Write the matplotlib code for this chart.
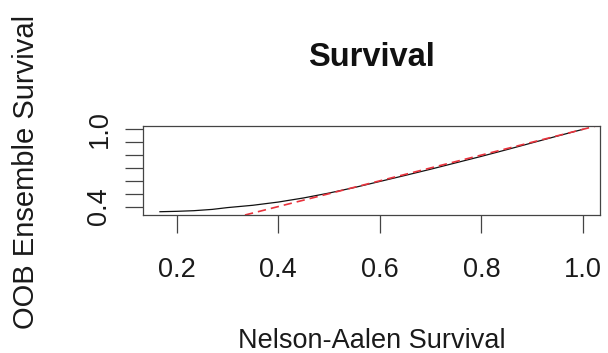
import matplotlib.pyplot as plt
import numpy as np

plt.rcParams['font.family'] = ['Liberation Sans', 'DejaVu Sans']

# Nelson-Aalen survival (x) vs OOB ensemble survival (y)
nelson_aalen = [0.167, 0.2, 0.234, 0.27, 0.3, 0.35, 0.4, 0.45, 0.5, 0.55,
                0.6, 0.65, 0.7, 0.75, 0.8, 0.85, 0.9, 0.95, 1.0]
oob_survival = [0.360, 0.363, 0.368, 0.378, 0.392, 0.41, 0.435, 0.467, 0.505, 0.548,
                0.595, 0.642, 0.690, 0.740, 0.790, 0.842, 0.895, 0.948, 1.0]

x_ticks = [0.2, 0.4, 0.6, 0.8, 1.0]
y_ticks = [0.4, 0.5, 0.6, 0.7, 0.8, 0.9, 1.0]
y_tick_labels = ['0.4', '', '', '', '', '', '1.0']

fig = plt.figure(figsize=(6.08, 3.53), dpi=100)
ax = fig.add_axes([0.2352, 0.3909, 0.7516, 0.2522])

ax.plot(nelson_aalen, oob_survival, color='#111111', lw=0.9)
ax.axline((0, 0), slope=1, color='#e8323c', lw=1.2, ls=(0, (5, 3)))

# R-style 4% padding
xr = max(nelson_aalen) - min(nelson_aalen)
yr = max(oob_survival) - min(oob_survival)
ax.set_xlim(min(nelson_aalen) - 0.04 * xr, max(nelson_aalen) + 0.04 * xr)
ax.set_ylim(min(oob_survival) - 0.04 * yr, max(oob_survival) + 0.04 * yr)

ax.set_xticks(x_ticks)
ax.set_xticklabels([f'{t:.1f}' for t in x_ticks])
ax.set_yticks(y_ticks)
ax.set_yticklabels(y_tick_labels, rotation=90, va='center')

ax.tick_params(direction='out', length=13, width=0.9, color='#444444',
               labelsize=19.5, labelcolor='#1a1a1a')
ax.tick_params(axis='x', pad=17)
ax.tick_params(axis='y', pad=9)
for s in ax.spines.values():
    s.set_linewidth(0.9)
    s.set_color('#444444')

fig.text(0.611, 1 - 57 / 353, 'Survival', ha='center', va='center',
         fontsize=23.5, fontweight='bold', color='#111111')
fig.text(0.611, 1 - 341 / 353, 'Nelson-Aalen Survival', ha='center',
         va='center', fontsize=19.5, color='#1a1a1a')
fig.text(26 / 608, 1 - 172 / 353, 'OOB Ensemble Survival', ha='center',
         va='center', rotation=90, fontsize=21, color='#1a1a1a')

fig.savefig('out.png', dpi=100)
